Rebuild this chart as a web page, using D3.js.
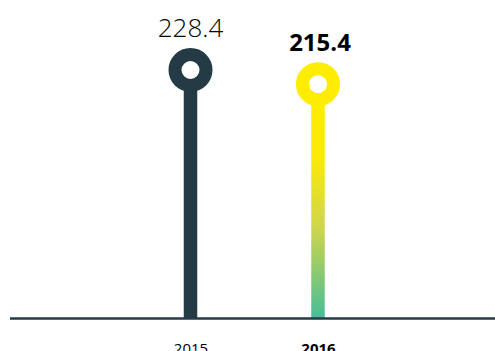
<!DOCTYPE html>
<html>
<head>
<meta charset="utf-8">
<script src="https://cdn.jsdelivr.net/npm/d3@7"></script>
<style>
  html, body { margin: 0; padding: 0; background: #fff; }
  svg { display: block; }
</style>
</head>
<body>
<div id="chart"></div>
<script>
// Lollipop comparison of two years
const years = ["2015", "2016"];
const values = [228.4, 215.4];
const valueLabels = ["228.4", "215.4"];
const highlighted = [false, true];

const W = 495, H = 351;
const dark = "#243a44";

const svg = d3.select("#chart").append("svg")
  .attr("width", W).attr("height", H);

const defs = svg.append("defs");
const grad = defs.append("linearGradient")
  .attr("id", "stemGrad")
  .attr("gradientUnits", "userSpaceOnUse")
  .attr("x1", 0).attr("x2", 0);
grad.append("stop").attr("offset", "0").attr("stop-color", "#ffed00");
grad.append("stop").attr("offset", "0.32").attr("stop-color", "#fbe909");
grad.append("stop").attr("offset", "0.62").attr("stop-color", "#cdd54d");
grad.append("stop").attr("offset", "1").attr("stop-color", "#45bd98");

const x = d3.scalePoint()
  .domain(years)
  .range([190.5, 318])
  .padding(0);

const baseY = 318.5;
const y = d3.scaleLinear()
  .domain([0, d3.max(values)])
  .range([baseY, 70]);

const data = years.map((yr, i) => ({
  year: yr, value: values[i], label: valueLabels[i], hi: highlighted[i]
}));

grad.attr("y1", y(values[1])).attr("y2", baseY);

// stems
svg.selectAll("rect.stem").data(data).enter().append("rect")
  .attr("class", "stem")
  .attr("x", d => x(d.year) - 6.75)
  .attr("width", 13.5)
  .attr("y", d => y(d.value))
  .attr("height", d => baseY - y(d.value))
  .attr("fill", d => d.hi ? "url(#stemGrad)" : dark);

// heads: ring drawn as thick stroke
svg.selectAll("circle.head").data(data).enter().append("circle")
  .attr("class", "head")
  .attr("cx", d => x(d.year))
  .attr("cy", d => y(d.value))
  .attr("r", 15.5)
  .attr("fill", "#fff")
  .attr("stroke", d => d.hi ? "#ffed00" : dark)
  .attr("stroke-width", 13);

// baseline
svg.append("line")
  .attr("x1", 10).attr("x2", W)
  .attr("y1", baseY).attr("y2", baseY)
  .attr("stroke", dark)
  .attr("stroke-width", 2.6);

// value labels
svg.selectAll("text.val").data(data).enter().append("text")
  .attr("class", "val")
  .attr("x", d => x(d.year) + (d.hi ? 2 : 0))
  .attr("y", d => y(d.value) - 33)
  .attr("text-anchor", "middle")
  .attr("font-family", "'Open Sans', sans-serif")
  .attr("font-size", d => d.hi ? 24 : 26)
  .attr("font-weight", d => d.hi ? 700 : 300)
  .attr("fill", "#000")
  .text(d => d.label);

// category axis labels
const xAxis = d3.axisBottom(x).tickSize(0).tickPadding(0);
const ax = svg.append("g")
  .attr("transform", `translate(0, ${baseY})`)
  .call(xAxis);
ax.select(".domain").remove();
ax.selectAll("text")
  .attr("dy", null)
  .attr("y", 35)
  .attr("font-family", "'Open Sans', sans-serif")
  .attr("font-size", 15)
  .attr("fill", "#000")
  .attr("font-weight", (d, i) => highlighted[i] ? 700 : 400);
</script>
</body>
</html>
